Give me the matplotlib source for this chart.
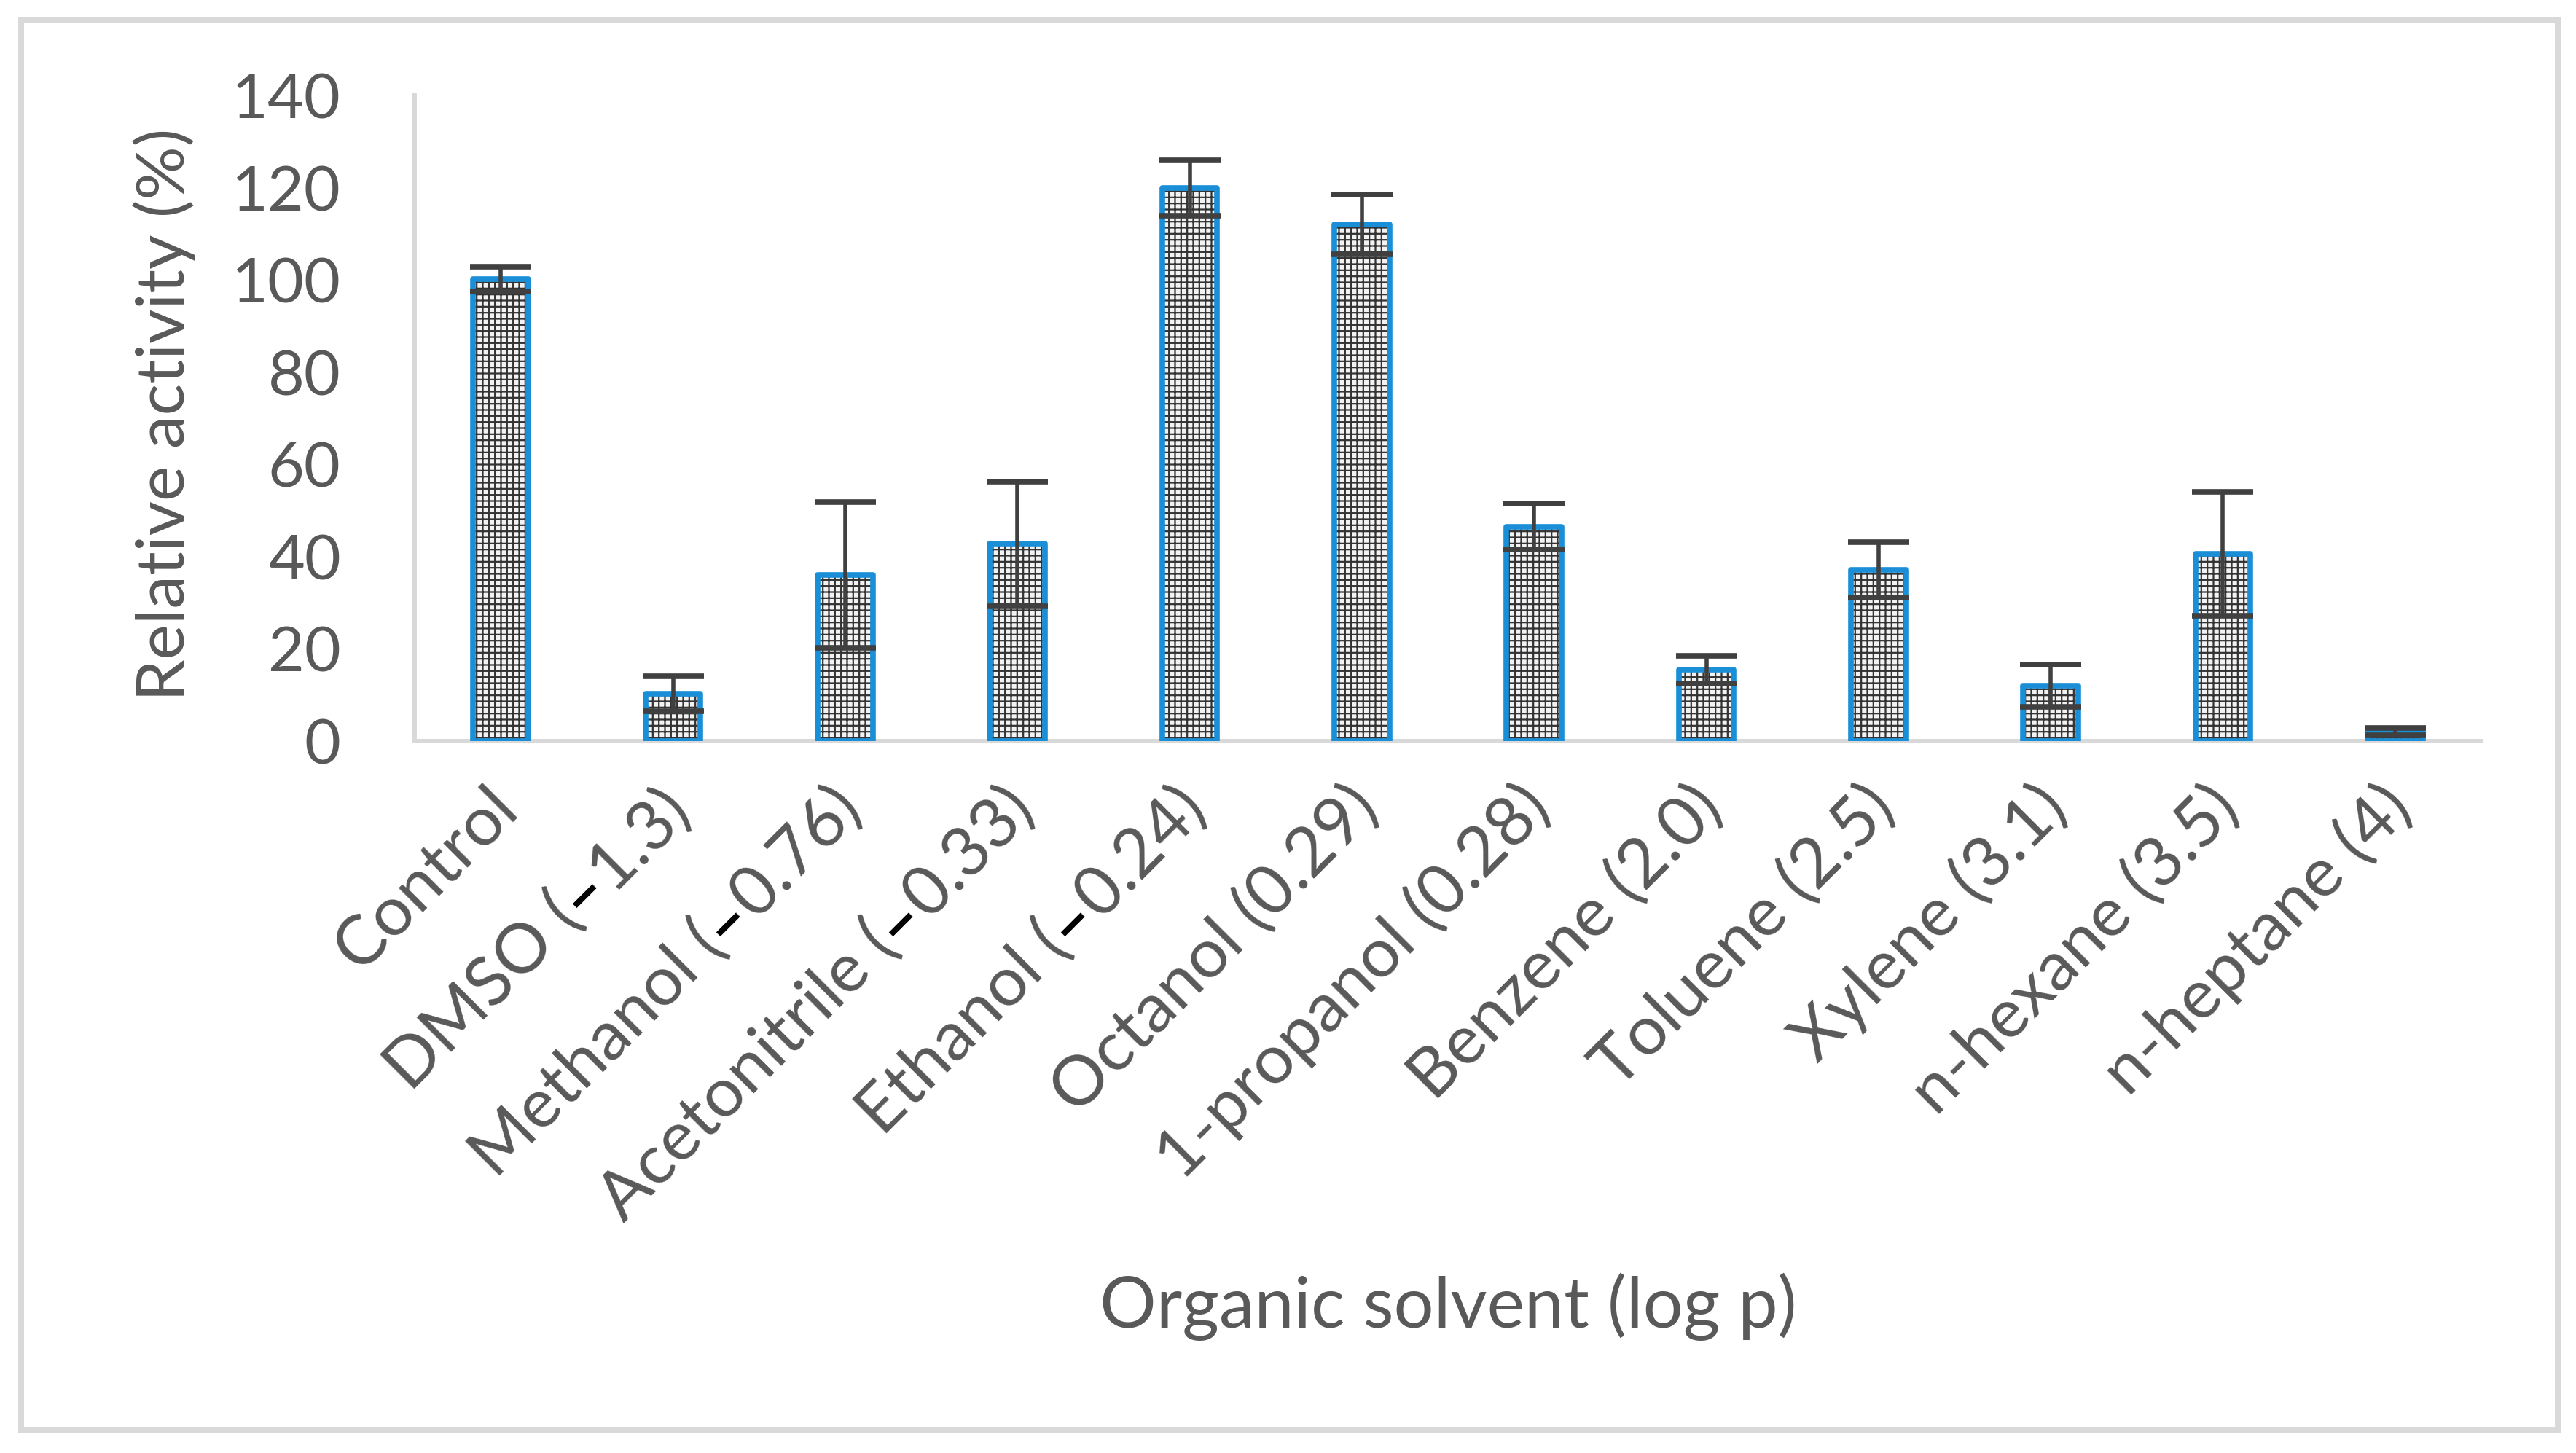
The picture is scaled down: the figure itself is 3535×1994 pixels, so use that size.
import matplotlib
matplotlib.use("Agg")
import matplotlib.pyplot as plt
from matplotlib.font_manager import FontProperties
from matplotlib.patches import Rectangle
import numpy as np

# ---- data ----
categories = [
    [("Control", "g")],
    [("DMSO (", "g"), ("\u2013", "k"), ("1.3)", "g")],
    [("Methanol (", "g"), ("\u2013", "k"), ("0.76)", "g")],
    [("Acetonitrile (", "g"), ("\u2013", "k"), ("0.33)", "g")],
    [("Ethanol (", "g"), ("\u2013", "k"), ("0.24)", "g")],
    [("Octanol (0.29)", "g")],
    [("1-propanol (0.28)", "g")],
    [("Benzene (2.0)", "g")],
    [("Toluene (2.5)", "g")],
    [("Xylene (3.1)", "g")],
    [("n-hexane (3.5)", "g")],
    [("n-heptane (4)", "g")],
]
values = [100.2, 10.3, 36.0, 42.8, 120.0, 112.0, 46.5, 15.5, 37.1, 12.0, 40.6, 2.0]
errors = [2.7, 3.8, 15.8, 13.5, 6.0, 6.5, 5.0, 3.0, 6.0, 4.6, 13.4, 0.8]
yticks = [0, 20, 40, 60, 80, 100, 120, 140]
xlabel = "Organic solvent (log p)"
ylabel = "Relative activity (%)"

# ---- style ----
DPI = 100
W, H = 3535, 1994
TXT = "#595959"
BLUE = "#1a8fd8"
GRID = "#d9d9d9"
FONT = "Lato"
FS_TICK = 62
FS_CAT = 68
FS_X = 70
FS_Y = 66
plt.rcParams["font.family"] = [FONT, "DejaVu Sans"]
plt.rcParams["hatch.linewidth"] = 1.6

fig = plt.figure(figsize=(W / DPI, H / DPI), dpi=DPI)
fig.patch.set_facecolor("white")

# outer border
fig.patches.append(Rectangle((29 / W, 1 - 1963 / H), (3510 - 29) / W, (1963 - 27) / H,
                             transform=fig.transFigure, fill=False,
                             edgecolor=GRID, linewidth=8 * 72 / DPI, zorder=0))

ax_l, ax_r, ax_t, ax_b = 569, 3405, 131, 1017
ax = fig.add_axes([ax_l / W, 1 - ax_b / H, (ax_r - ax_l) / W, (ax_b - ax_t) / H])

x = np.arange(len(values))
bw = 0.32
ax.bar(x, values, width=bw, facecolor="#f2f2f2", edgecolor="#333333",
       linewidth=0, hatch="++", zorder=2)
ax.bar(x, values, width=bw, fill=False, edgecolor=BLUE, linewidth=5.5,
       joinstyle="round", zorder=3)
ax.errorbar(x, values, yerr=errors, fmt="none", ecolor="#404040",
            elinewidth=4, capsize=30, capthick=5.5, zorder=4)

ax.set_xlim(-0.5, len(values) - 0.5)
ax.set_ylim(0, 140)
ax.set_yticks(yticks)
ax.set_yticklabels([str(v) for v in yticks])
ax.tick_params(axis="y", length=0, pad=73, labelsize=FS_TICK, labelcolor=TXT)
ax.set_xticks(x)
ax.set_xticklabels([""] * len(x))
ax.tick_params(axis="x", length=0)
for s in ["top", "right"]:
    ax.spines[s].set_visible(False)
for s in ["left", "bottom"]:
    ax.spines[s].set_color(GRID)
    ax.spines[s].set_linewidth(4.3)
ax.set_facecolor("none")

# category labels (multi-coloured pieces, rotated 45 deg)
renderer = fig.canvas.get_renderer()
prop = FontProperties(family=FONT, size=FS_CAT)
propb = FontProperties(family=FONT, size=FS_CAT, weight="bold")
_, lph, lpd = renderer.get_text_width_height_descent("lp", prop, ismath=False)
asc = lph - lpd
c45 = np.cos(np.deg2rad(45))
dx0, dy0 = -21, -48  # top-right of label relative to bar centre / baseline (px)
for i, parts in enumerate(categories):
    widths = []
    for t, c in parts:
        p = propb if c == "k" else prop
        w, _, _ = renderer.get_text_width_height_descent(t, p, ismath=False)
        widths.append(w)
    total = sum(widths)
    ex = dx0 + asc * c45
    ey = dy0 - asc * c45
    sx = ex - total * c45
    sy = ey - total * c45
    cum = 0
    for (t, c), w in zip(parts, widths):
        ax.annotate(t, xy=(i, 0), xycoords="data",
                    xytext=(sx + cum * c45, sy + cum * c45), textcoords="offset pixels",
                    rotation=45, rotation_mode="anchor", ha="left", va="baseline",
                    fontsize=FS_CAT, color=("black" if c == "k" else TXT),
                    fontweight=("bold" if c == "k" else "normal"),
                    family=[FONT, "DejaVu Sans"], annotation_clip=False)
        cum += w

fig.text((ax_l + ax_r) / 2 / W, 1 - 1793 / H, xlabel, ha="center", va="center",
         fontsize=FS_X, color=TXT)
fig.text(226 / W, 1 - 569 / H, ylabel, ha="center", va="center", rotation=90,
         fontsize=FS_Y, color=TXT)

fig.savefig("out.png", dpi=DPI, facecolor="white")
